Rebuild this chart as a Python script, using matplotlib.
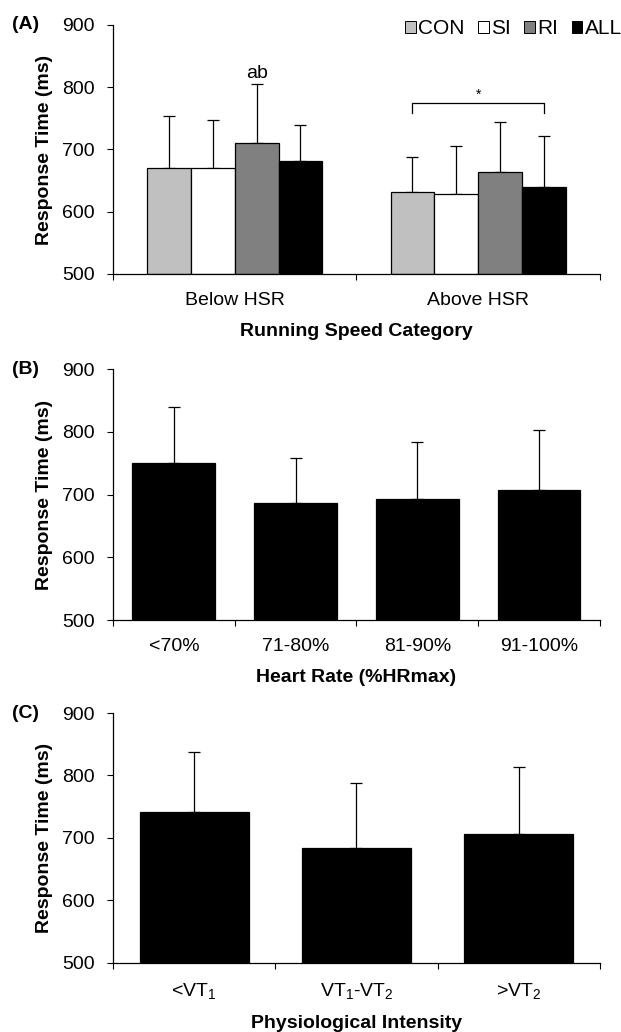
import numpy as np
import matplotlib
matplotlib.use('Agg')
import matplotlib.pyplot as plt
from matplotlib.patches import Patch

plt.rcParams['font.family'] = ['Liberation Sans', 'DejaVu Sans']
plt.rcParams['mathtext.fontset'] = 'custom'
plt.rcParams['mathtext.rm'] = 'Liberation Sans'
plt.rcParams['mathtext.it'] = 'Liberation Sans'

# Panel A: response time by running speed category and group
speed_cats = ['Below HSR', 'Above HSR']
groups = ['CON', 'SI', 'RI', 'ALL']
group_colors = ['#c0c0c0', '#ffffff', '#808080', '#000000']
speed_means = {
    'CON': [670, 631],
    'SI': [670, 629],
    'RI': [711, 664],
    'ALL': [681, 640],
}
speed_upper = {
    'CON': [753, 688],
    'SI': [748, 705],
    'RI': [805, 744],
    'ALL': [740, 722],
}

# Panel B: heart rate zones
hr_cats = ['<70%', '71-80%', '81-90%', '91-100%']
hr_means = [751, 687, 693, 707]
hr_upper = [840, 759, 783, 803]

# Panel C: physiological intensity
vt_cats = [r'<VT$_1$', r'VT$_1$-VT$_2$', r'>VT$_2$']
vt_means = [741, 684, 706]
vt_upper = [838, 788, 814]

FS = 14

fig = plt.figure(figsize=(6.21, 10.32), dpi=100)
left, width = 0.182, 0.784
axA = fig.add_axes([left, 0.7345, width, 0.2413])
axB = fig.add_axes([left, 0.3992, width, 0.2432])
axC = fig.add_axes([left, 0.0669, width, 0.2422])


def style_axis(ax, ncat, labels, xlabel, panel):
    ax.set_ylim(500, 900)
    ax.set_yticks([500, 600, 700, 800, 900])
    ax.set_xlim(0, ncat)
    ax.set_xticks(np.arange(ncat + 1))
    ax.set_xticklabels([])
    ax.set_xticks(np.arange(ncat) + 0.5, minor=True)
    ax.set_xticklabels(labels, minor=True, fontsize=FS)
    ax.tick_params(axis='x', which='minor', length=0, pad=13)
    ax.tick_params(axis='x', which='major', length=4, width=0.8, direction='out')
    ax.tick_params(axis='y', length=4, width=0.8, labelsize=FS, pad=9)
    for s in ['top', 'right']:
        ax.spines[s].set_visible(False)
    for s in ['left', 'bottom']:
        ax.spines[s].set_linewidth(0.9)
    ax.set_ylabel('Response Time (ms)', fontsize=FS, fontweight='bold', labelpad=7)
    ax.set_xlabel(xlabel, fontsize=FS, fontweight='bold', labelpad=10)
    ax.text(-0.179, 1.0, panel, transform=ax.transAxes, fontsize=FS,
            fontweight='bold', ha='center', va='center')


def draw_bars(ax, x, means, upper, width, color):
    ax.bar(x, np.array(means) - 500, width, bottom=500, color=color,
           edgecolor='black', linewidth=0.9, zorder=2)
    ax.errorbar(x, means, yerr=[np.zeros(len(means)), np.array(upper) - np.array(means)],
                fmt='none', ecolor='black', elinewidth=0.9, capsize=4, capthick=0.9, zorder=1)


# Panel A
bw = 0.18
centers = np.arange(len(speed_cats)) + 0.5
for i, g in enumerate(groups):
    xpos = centers + (i - 1.5) * bw
    draw_bars(axA, xpos, speed_means[g], speed_upper[g], bw, group_colors[i])
style_axis(axA, len(speed_cats), speed_cats, 'Running Speed Category', '(A)')

# "ab" above RI below HSR
axA.text(centers[0] + 0.5 * bw, 808, 'ab', ha='center', va='bottom', fontsize=FS)
# bracket between CON and ALL above HSR
x1 = centers[1] - 1.5 * bw
x2 = centers[1] + 1.5 * bw
axA.plot([x1, x1, x2, x2], [759, 775, 775, 759], color='black', lw=0.9)
axA.text(centers[1], 777, '*', ha='center', va='bottom', fontsize=FS - 4)

handles = [Patch(facecolor=c, edgecolor='black', linewidth=0.7) for c in group_colors]
axA.legend(handles, groups, loc='center right', bbox_to_anchor=(1.045, 0.984), ncol=4,
           frameon=False, fontsize=15, handlelength=0.5, handleheight=0.5,
           handletextpad=0.12, columnspacing=0.65, borderaxespad=0, borderpad=0)

# Panel B
xb = np.arange(len(hr_cats)) + 0.5
draw_bars(axB, xb, hr_means, hr_upper, 0.68, 'black')
style_axis(axB, len(hr_cats), hr_cats, 'Heart Rate (%HRmax)', '(B)')

# Panel C
xc = np.arange(len(vt_cats)) + 0.5
draw_bars(axC, xc, vt_means, vt_upper, 0.672, 'black')
style_axis(axC, len(vt_cats), vt_cats, 'Physiological Intensity', '(C)')

fig.savefig('out.png', dpi=100)
